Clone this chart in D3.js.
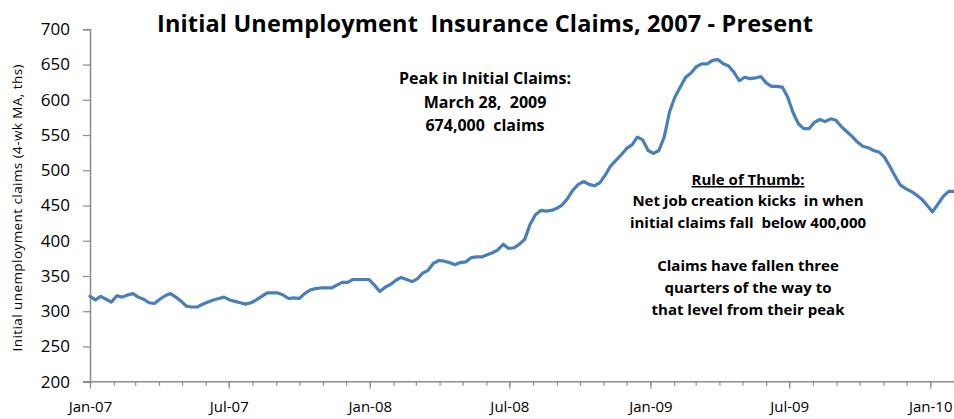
<!DOCTYPE html>
<html><head><meta charset="utf-8">
<script src="https://cdn.jsdelivr.net/npm/d3@7"></script>
<style>
html,body{margin:0;padding:0;background:#fff;}
svg{display:block;font-family:"Open Sans",sans-serif;}
</style></head>
<body>
<svg id="chart" width="954" height="419"></svg>
<script>
// Weekly dates start Jan 6, 2007 (one point per week)
const startDate = "2007-01-06";
// 4-week moving average of initial claims, thousands
const claims = [
321,316,321,317,313,322,320,323,325,320,317,312,311,317,322,325,320,314,307,306,
306,310,313,316,318,320,316,314,312,310,312,316,321,326,326,326,323,318,319,318,
325,330,332,333,333,333,337,341,341,345,345,345,345,337,328,334,338,344,348,345,
342,346,354,358,368,372,371,369,366,369,370,376,377,377,380,383,387,395,389,390,
395,402,423,437,443,442,443,446,451,460,472,480,484,480,478,482,493,506,514,522,
531,536,547,543,528,524,528,547,583,604,618,632,638,647,651,651,656,657,651,648,
639,627,632,630,631,633,624,619,619,618,604,582,566,559,559,568,572,569,573,571,
562,555,548,540,534,532,528,526,519,506,492,479,474,470,465,459,450,441,452,463,
470,470
];
const yTicks = [200,250,300,350,400,450,500,550,600,650,700];
const xTickLabels = ["Jan-07","Jul-07","Jan-08","Jul-08","Jan-09","Jul-09","Jan-10"];
const titleText = "Initial Unemployment  Insurance Claims, 2007 - Present";
const yAxisTitle = "Initial unemployment claims (4-wk MA, ths)";
const peakNote = ["Peak in Initial Claims:", "March 28,  2009", "674,000  claims"];
const ruleHead = "Rule of Thumb:";
const ruleNote = ["Net job creation kicks  in when", "initial claims fall  below 400,000", "", "Claims have fallen three", "quarters of the way to", "that level from their peak"];

(function(){
const FONT = "Open Sans";
const parse = d3.timeParse("%Y-%m-%d");
const t0 = parse(startDate);
const data = claims.map((v,i)=>({date:d3.timeDay.offset(t0, 7*i), value:v}));

const svg = d3.select("#chart");
const mLeft = 90, mRight = 954, mTop = 29.3, mBottom = 381.7;
const x = d3.scaleTime().domain([t0, d3.timeMonth.offset(t0, 37)]).range([mLeft, mRight]);
const y = d3.scaleLinear().domain([200,700]).range([mBottom, mTop]);
const axisColor = "#8c8c8c";

const monthTicks = d3.range(0, 38).map(m => d3.timeMonth.offset(t0, m));
const xAxisMinor = d3.axisBottom(x).tickValues(monthTicks).tickSize(4).tickFormat("");
const gxm = svg.append("g").attr("transform",`translate(0,${mBottom})`).call(xAxisMinor);
gxm.select(".domain").remove();
gxm.selectAll("line").attr("stroke",axisColor).attr("stroke-width",1.2);
const majorTicks = monthTicks.filter((d,i)=> i%6===0 && i/6 < xTickLabels.length);
const xAxisMajor = d3.axisBottom(x).tickValues(majorTicks).tickSize(7).tickPadding(13)
  .tickFormat((d,i)=>xTickLabels[i]);
const gx = svg.append("g").attr("transform",`translate(0,${mBottom})`).call(xAxisMajor);
gx.select(".domain").remove();
gx.selectAll("line").attr("stroke",axisColor).attr("stroke-width",1.2);
gx.selectAll("text").attr("font-family",FONT).attr("font-size","15px").attr("fill","#000");
svg.append("line").attr("x1",83).attr("x2",mRight).attr("y1",mBottom).attr("y2",mBottom)
  .attr("stroke",axisColor).attr("stroke-width",1.5);

const yAxis = d3.axisLeft(y).tickValues(yTicks).tickSize(7).tickPadding(13).tickFormat(d3.format("d"));
const gy = svg.append("g").attr("transform",`translate(${mLeft},0)`).call(yAxis);
gy.select(".domain").attr("stroke",axisColor).attr("stroke-width",1.5);
gy.selectAll("line").attr("stroke",axisColor).attr("stroke-width",1.2);
gy.selectAll("text").attr("font-family",FONT).attr("font-size","17px").attr("fill","#000");

const line = d3.line().x(d=>x(d.date)).y(d=>y(d.value)).curve(d3.curveLinear);
svg.append("path").datum(data).attr("d",line).attr("fill","none")
  .attr("stroke","#4a7ebb").attr("stroke-width",3.2).attr("stroke-linejoin","round").attr("stroke-linecap","round");

svg.append("text").attr("x",485).attr("y",32).attr("text-anchor","middle")
  .attr("font-family",FONT).attr("font-weight","bold").attr("font-size","23.5px").attr("fill","#000")
  .attr("textLength",656).attr("lengthAdjust","spacing")
  .style("white-space","pre").text(titleText);

svg.append("text").attr("transform",`translate(22,208) rotate(-90)`)
  .attr("text-anchor","middle").attr("font-family",FONT).attr("font-size","13.5px").attr("fill","#000")
  .attr("textLength",287).attr("lengthAdjust","spacing")
  .text(yAxisTitle);

svg.append("g").selectAll("text").data(peakNote).join("text")
  .attr("x",485).attr("y",(d,i)=>84+i*23.5).attr("text-anchor","middle")
  .attr("font-family",FONT).attr("font-weight","bold").attr("font-size","16px").attr("fill","#000")
  .style("white-space","pre").text(d=>d);

svg.append("text").attr("x",748).attr("y",185).attr("text-anchor","middle")
  .attr("font-family",FONT).attr("font-weight","bold").attr("font-size","15px").attr("fill","#000")
  .attr("text-decoration","underline").text(ruleHead);
svg.append("g").selectAll("text").data(ruleNote).join("text")
  .attr("x",748).attr("y",(d,i)=>206+i*21.7).attr("text-anchor","middle")
  .attr("font-family",FONT).attr("font-weight","bold").attr("font-size","15px").attr("fill","#000")
  .style("white-space","pre").text(d=>d);
})();
</script>
</body></html>
